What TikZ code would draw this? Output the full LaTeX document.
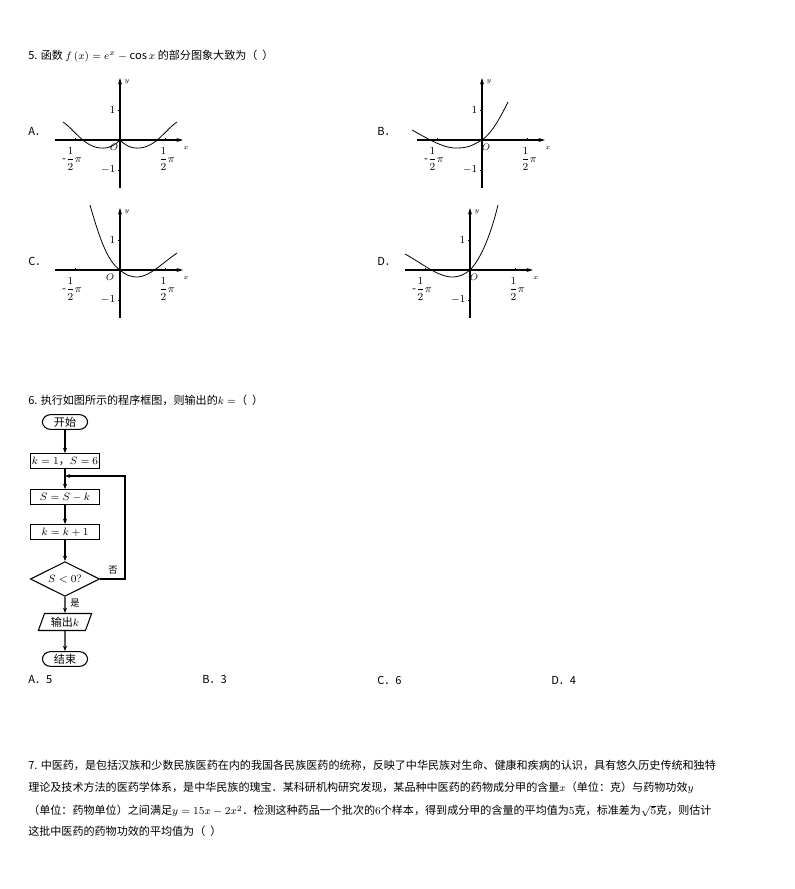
\documentclass[tikz,border=0pt]{standalone}
\usepackage{fontspec}
\usepackage{amsmath}
\setmainfont{Noto Sans CJK SC}
\usetikzlibrary{shapes.geometric,arrows.meta}
\begin{document}
\begin{tikzpicture}[x=0.75pt,y=-0.75pt,font=\fontsize{8.3}{10}\selectfont,
  ax/.style={thick,-{Stealth[length=5pt,width=3pt]}},
  cv/.style={line width=0.6pt},
  tl/.style={font=\fontsize{8.5}{9}\selectfont},
  lbl/.style={anchor=west,inner sep=0},
  boxx/.style={draw,thick,minimum width=52pt,minimum height=11pt,inner sep=1pt},
  term/.style={draw,thick,rounded corners=6pt,minimum width=34pt,minimum height=11pt,inner sep=1pt},
  fl/.style={thick,-{Stealth[length=4pt,width=3pt]}}]
\useasboundingbox (0,0) rectangle (794,889);
\fill[white] (0,0) rectangle (794,889);
\newcommand{\myaxes}[3]{%
 \begin{scope}[shift={(#1,#2)}]
  \draw[ax] (-65,0) -- (63,0);
  \draw[ax] (0,48) -- (0,-62);
  \draw (-2,-30)--(0,-30) (-2,30)--(0,30) (-45,0)--(-45,-2) (45,0)--(45,-2);
  \node[tl,left] at (0,-30) {$1$};
  \node[tl,left] at (0,30) {$-1$};
  \node[tl] at (-48,19) {$\text{-}\dfrac{1}{2}\pi$};
  \node[tl] at (47,19) {$\dfrac{1}{2}\pi$};
  \node[font=\fontsize{5.5}{6}\selectfont] at (66,8) {$x$};
  \node[font=\fontsize{5.5}{6}\selectfont] at (7,-58) {$y$};
  \node[font=\fontsize{7}{7}\selectfont] at (#3,7) {$O$};
  \end{scope}}
\node[lbl] (q5) at (28,56) {5. 函数 $f\left(x\right)=e^{x}-\cos x$ 的部分图象大致为（\ \ ）};
% A
\node[lbl] (la) at (28,131) {A．};
\myaxes{120}{140}{-6}
\draw[cv] (63,122) .. controls (75,130) and (83,146) .. (100,148) .. controls (110,149) and (116,144) .. (120,140);
\draw[cv] (120,140) .. controls (124,144) and (130,149) .. (140,148) .. controls (157,146) and (165,130) .. (177,122);
% B
\node[lbl] (lb) at (377,131) {B．};
\myaxes{482}{140}{4}
\draw[cv] (412,130) .. controls (430,140) and (445,149) .. (458,148) .. controls (470,148) and (476,143) .. (482,140) .. controls (492,133) and (500,118) .. (508,102);
% C
\node[lbl] (lc) at (28,261) {C．};
\myaxes{120}{270}{-10}
\draw[cv] (90,205) .. controls (100,240) and (108,262) .. (120,270) .. controls (126,275) and (130,277) .. (138,277) .. controls (150,276) and (160,265) .. (177,253);
% D
\node[lbl] (ld) at (377,261) {D．};
\myaxes{470}{270}{4}
\draw[cv] (405,254) .. controls (420,262) and (438,277) .. (452,277) .. controls (460,277) and (465,274) .. (470,270) .. controls (482,258) and (492,230) .. (498,205);
% Q6
\node[lbl] (q6) at (28,400) {6. 执行如图所示的程序框图，则输出的$k=$（\ \ ）};
\node[term] (st) at (65,422) {开始};
\node[boxx] (b1) at (65,461) {$k=1$，$S=6$};
\node[boxx] (b2) at (65,497) {$S=S-k$};
\node[boxx] (b3) at (65,532) {$k=k+1$};
\node[diamond,draw,thick,aspect=2.1,minimum width=52pt,minimum height=26pt,inner sep=0] (dd) at (65,579) {$S<0?$};
\node[trapezium,trapezium left angle=70,trapezium right angle=110,draw,thick,minimum width=40pt,minimum height=11pt,inner sep=1pt] (out) at (65,622) {输出$k$};
\node[term] (en) at (65,659) {结束};
\coordinate (j) at (65,476);
\draw[fl] (st) -- (b1);
\draw[thick] (b1) -- (j);
\draw[fl] (j) -- (b2);
\draw[fl] (b2) -- (b3);
\draw[fl] (b3) -- (dd);
\draw[fl] (dd.east) -- (125,579) -- (125,476) -- (j);
\draw[fl] (dd) -- (out);
\draw[fl] (out) -- (en);
\node[font=\fontsize{7}{7}\selectfont] (no) at (113,570) {否};
\node[font=\fontsize{7}{7}\selectfont] (yes) at (75,603) {是};
\node[lbl] (a1) at (28,680) {A．5};
\node[lbl] (a2) at (202,680) {B．3};
\node[lbl] (a3) at (377,680) {C．6};
\node[lbl] (a4) at (551,680) {D．4};
% Q7
\node[lbl] (t1) at (28,765) {7. 中医药，是包括汉族和少数民族医药在内的我国各民族医药的统称，反映了中华民族对生命、健康和疾病的认识，具有悠久历史传统和独特};
\node[lbl] (t2) at (28,788) {理论及技术方法的医药学体系，是中华民族的瑰宝．某科研机构研究发现，某品种中医药的药物成分甲的含量$x$（单位：克）与药物功效$y$};
\node[lbl] (t3) at (28,811) {（单位：药物单位）之间满足$y=15x-2x^2$．检测这种药品一个批次的$6$个样本，得到成分甲的含量的平均值为$5$克，标准差为$\sqrt{5}$克，则估计};
\node[lbl] (t4) at (28,831) {这批中医药的药物功效的平均值为（\ \ ）};
\end{tikzpicture}
\end{document}
